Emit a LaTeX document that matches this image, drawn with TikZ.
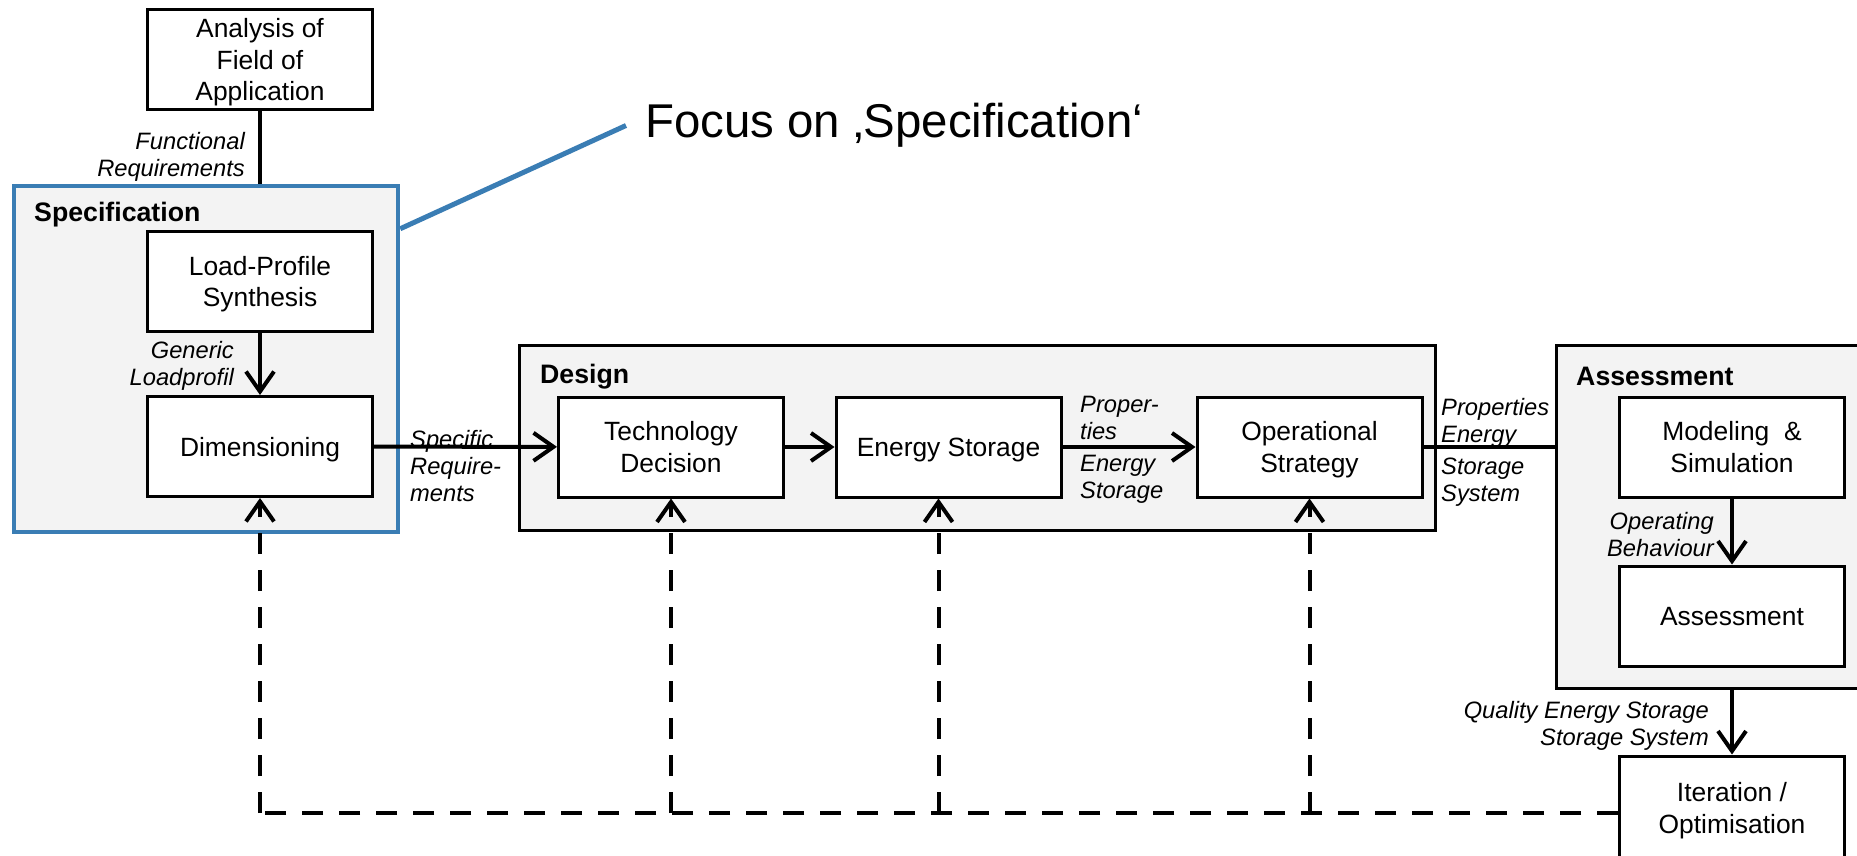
\documentclass[tikz,border=0pt]{standalone}
\usepackage{fontspec}
\setmainfont{Liberation Sans}
\usepackage{xcolor}
\usepackage{tikz}
\usetikzlibrary{arrows.meta}
\definecolor{specblue}{RGB}{58,125,180}
\definecolor{groupgray}{RGB}{243,243,243}

\begin{document}
\begin{tikzpicture}[x=1pt,y=-1pt]
          \useasboundingbox (0,0) rectangle (1857,856);
          \clip (0,0) rectangle (1857,856);
          \begin{scope}[every node/.style={rectangle,draw=black,line width=3pt,fill=groupgray,inner sep=0pt}]
            \node[draw=specblue,line width=4.5pt,minimum width=384pt,minimum height=346pt] (spec) at (206,359) {};
            \node[minimum width=916pt,minimum height=185pt] (design) at (977,437.5) {};
            \node[minimum width=330pt,minimum height=343pt] (assess) at (1721,516.5) {};
          \end{scope}
          \begin{scope}[every node/.style={anchor=west,inner sep=0pt,font=\fontsize{26.7}{32}\selectfont\bfseries}]
            \node (spectitle) at (34,214.5) {Specification};
            \node (designtitle) at (540,376.5) {Design};
            \node (assesstitle) at (1576,376.5) {Assessment};
          \end{scope}
          \begin{scope}[every node/.style={rectangle,draw=black,line width=3pt,fill=white,inner sep=2pt,minimum width=225pt,minimum height=100pt,align=center,text depth=0pt,font=\fontsize{26.4}{31.7}\selectfont}]
            \node (ana) at (260,59.5) {Analysis of\\Field of\\Application};
            \node (load) at (260,281.5) {Load-Profile\\Synthesis};
            \node (dim) at (260,446.5) {Dimensioning};
            \node (tech) at (671,447) {Technology\\Decision};
            \node (es) at (948.5,447) {Energy Storage};
            \node (os) at (1309.5,447) {Operational\\Strategy};
            \node (model) at (1732,447) {Modeling~ \&\\Simulation};
            \node (assm) at (1732,616) {Assessment};
            \node[minimum height=104pt] (iter) at (1732,808) {Iteration /\\Optimisation};
          \end{scope}
          \node[anchor=west,inner sep=0pt,font=\fontsize{47.4}{56}\selectfont] (focus) at (645,125.5) {Focus on ‚Specification‘};
          \begin{scope}[every node/.style={inner sep=0pt,font=\fontsize{23.7}{27}\selectfont\itshape}]
            \node[anchor=east,align=right] (funclab) at (245,156.5) {Functional\\Requirements};
            \node[anchor=east,align=right] (genlab) at (234,365.5) {Generic\\Loadprofil};
            \node[anchor=west,align=left] (speclab) at (410,466) {Specific\\Require-\\ments};
            \node[anchor=west,align=left] (proplab) at (1080,450) {Proper-\\ties\\[5pt]Energy\\Storage};
            \node[anchor=west,align=left] (syslab) at (1441,452) {Properties\\Energy\\[5pt]Storage\\System};
            \node[anchor=east,align=right] (oplab) at (1714,534.5) {Operating\\Behaviour};
            \node[anchor=east,align=right] (qualab) at (1709,725.5) {Quality Energy Storage\\Storage System};
          \end{scope}
          \begin{scope}[every edge/.style={draw=black,line width=4pt,-{Straight Barb[length=20pt,width=28pt]}}]
            \path (load) edge (dim);
            \path (dim) edge (tech);
            \path (tech) edge (es);
            \path (es) edge (os);
            \path (model) edge (assm);
            \path (iter.north |- assess.south) edge (iter);
          \end{scope}
          \draw[line width=4pt] (ana) -- (ana.south |- spec.north);
          \draw[line width=4pt] (os) -- (os.east -| assess.west);
          % feedback from iteration
          \coordinate (back) at (260,813);
          \begin{scope}[every edge/.style={draw=black,line width=4pt,dash pattern=on 21pt off 16pt,-{Straight Barb[length=20pt,width=28pt]}}]
            \path (iter.west |- back) edge[-] (back);
            \path (back) edge (dim);
            \path (tech.south |- back) edge (tech);
            \path ([xshift=-10pt]es.south |- back) edge ([xshift=-10pt]es.south);
            \path (os.south |- back) edge (os);
          \end{scope}
          \draw[specblue,line width=5pt] ([yshift=-45pt]spec.north east) -- ([xshift=-19pt]focus.west);
        \end{tikzpicture}
\end{document}
